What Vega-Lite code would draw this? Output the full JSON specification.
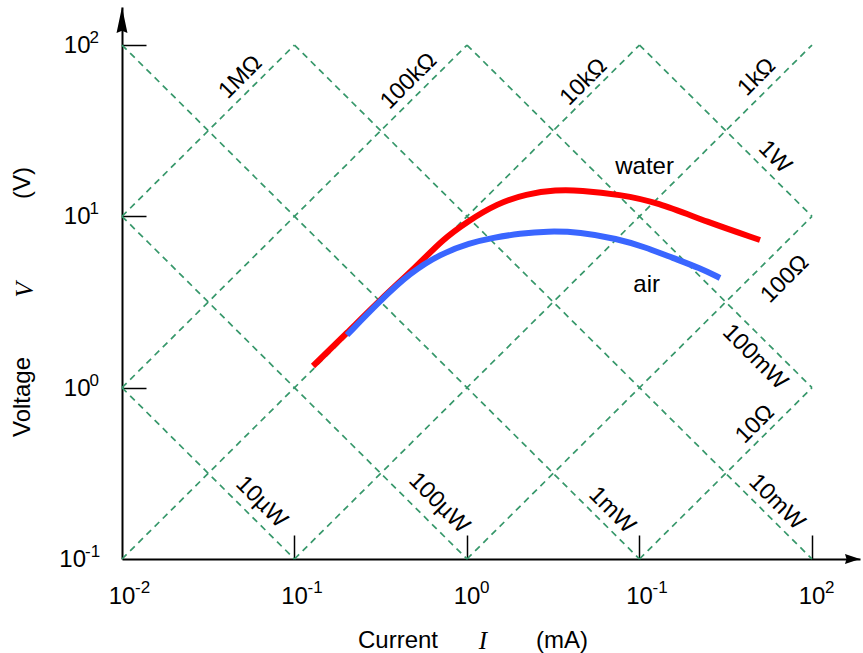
{
  "$schema": "https://vega.github.io/schema/vega-lite/v6.json",
  "width": 738,
  "height": 552,
  "autosize": "none",
  "padding": {"left": 122, "top": 7, "right": 3, "bottom": 94},
  "background": "white",
  "config": {"view": {"stroke": null}, "text": {"font": "Liberation Sans", "fontSize": 24, "color": "black"}},
  "datasets": {
    "lines": [
      {"name": "1MΩ", "I": 0.01, "V": 10, "I2": 0.1, "V2": 100},
      {"name": "100kΩ", "I": 0.01, "V": 1, "I2": 1, "V2": 100},
      {"name": "10kΩ", "I": 0.01, "V": 0.1, "I2": 10, "V2": 100},
      {"name": "1kΩ", "I": 0.1, "V": 0.1, "I2": 100, "V2": 100},
      {"name": "100Ω", "I": 1, "V": 0.1, "I2": 100, "V2": 10},
      {"name": "10Ω", "I": 10, "V": 0.1, "I2": 100, "V2": 1},
      {"name": "10µW", "I": 0.01, "V": 1, "I2": 0.1, "V2": 0.1},
      {"name": "100µW", "I": 0.01, "V": 10, "I2": 1, "V2": 0.1},
      {"name": "1mW", "I": 0.01, "V": 100, "I2": 10, "V2": 0.1},
      {"name": "10mW", "I": 0.1, "V": 100, "I2": 100, "V2": 0.1},
      {"name": "100mW", "I": 1, "V": 100, "I2": 100, "V2": 1},
      {"name": "1W", "I": 10, "V": 100, "I2": 100, "V2": 10}
    ],
    "curves": [
      {"series": "water", "I": 0.128, "V": 1.338},
      {"series": "water", "I": 0.2015, "V": 2.085},
      {"series": "water", "I": 0.313, "V": 3.25},
      {"series": "water", "I": 0.52, "V": 5.2},
      {"series": "water", "I": 0.72, "V": 7.3},
      {"series": "water", "I": 1.0, "V": 9.3},
      {"series": "water", "I": 1.5, "V": 11.9},
      {"series": "water", "I": 2.2, "V": 13.5},
      {"series": "water", "I": 3.3, "V": 14.3},
      {"series": "water", "I": 4.52, "V": 14.2},
      {"series": "water", "I": 7.71, "V": 13.4},
      {"series": "water", "I": 12.63, "V": 12.1},
      {"series": "water", "I": 24.62, "V": 9.27},
      {"series": "water", "I": 49.95, "V": 7.28},
      {"series": "air", "I": 0.2015, "V": 2.03},
      {"series": "air", "I": 0.313, "V": 3.21},
      {"series": "air", "I": 0.467, "V": 4.67},
      {"series": "air", "I": 0.698, "V": 6.03},
      {"series": "air", "I": 1.041, "V": 6.99},
      {"series": "air", "I": 1.415, "V": 7.5},
      {"series": "air", "I": 2.03, "V": 7.95},
      {"series": "air", "I": 2.91, "V": 8.2},
      {"series": "air", "I": 4.52, "V": 8.1},
      {"series": "air", "I": 7.41, "V": 7.4},
      {"series": "air", "I": 10.76, "V": 6.62},
      {"series": "air", "I": 15.64, "V": 5.71},
      {"series": "air", "I": 22.42, "V": 4.99},
      {"series": "air", "I": 29.29, "V": 4.37}
    ],
    "labels": [
      {"text": "1MΩ", "I": 0.0486, "V": 65.0, "kind": "R"},
      {"text": "100kΩ", "I": 0.459, "V": 61.6, "kind": "R"},
      {"text": "10kΩ", "I": 4.75, "V": 60.8, "kind": "R"},
      {"text": "1kΩ", "I": 47.9, "V": 65.0, "kind": "R"},
      {"text": "100Ω", "I": 69.6, "V": 4.31, "kind": "R"},
      {"text": "10Ω", "I": 46.7, "V": 0.613, "kind": "R"},
      {"text": "10µW", "I": 0.0644, "V": 0.215, "kind": "P"},
      {"text": "100µW", "I": 0.689, "V": 0.212, "kind": "P"},
      {"text": "1mW", "I": 6.93, "V": 0.193, "kind": "P"},
      {"text": "10mW", "I": 62.5, "V": 0.215, "kind": "P"},
      {"text": "100mW", "I": 46.7, "V": 1.51, "kind": "P"},
      {"text": "1W", "I": 60.9, "V": 22.2, "kind": "P"},
      {"text": "water", "I": 10.7, "V": 19.4, "kind": "C"},
      {"text": "air", "I": 11.0, "V": 3.97, "kind": "C"}
    ],
    "xticks": [
      {"I": 0.01, "exp": "-2"},
      {"I": 0.1, "exp": "-1"},
      {"I": 1, "exp": "0"},
      {"I": 10, "exp": "-1"},
      {"I": 100, "exp": "2"}
    ],
    "yticks": [
      {"V": 100, "exp": "2"},
      {"V": 10, "exp": "1"},
      {"V": 1, "exp": "0"},
      {"V": 0.1, "exp": "-1"}
    ],
    "xtitle": [
      {"text": "Current", "I": 0.398, "style": "plain"},
      {"text": "I", "I": 1.238, "style": "italic"},
      {"text": "(mA)", "I": 3.554, "style": "plain"}
    ],
    "ytitle": [
      {"text": "Voltage", "V": 0.882, "style": "plain"},
      {"text": "V", "V": 3.72, "style": "italic"},
      {"text": "(V)", "V": 15.65, "style": "plain"}
    ],
    "arrows": [
      {"dir": "up", "I": 0.01, "V": 139.9},
      {"dir": "right", "I": 171.7, "V": 0.1}
    ]
  },
  "layer": [
    {
      "data": {"name": "lines"},
      "mark": {"type": "rule", "color": "#36976a", "strokeWidth": 1.7, "strokeDash": [6.5, 5]},
      "encoding": {
        "x": {"field": "I", "type": "quantitative", "scale": {"type": "log", "domain": [0.01, 189.8], "nice": false},
              "axis": {"values": [0.1, 1, 10, 100], "tickSize": -24, "tickWidth": 1.5, "tickColor": "black", "domainColor": "black", "domainWidth": 2, "labels": false, "title": null, "grid": false}},
        "y": {"field": "V", "type": "quantitative", "scale": {"type": "log", "domain": [0.1, 166.7], "nice": false},
              "axis": {"values": [1, 10, 100], "tickSize": -24, "tickWidth": 1.5, "tickColor": "black", "domainColor": "black", "domainWidth": 2, "labels": false, "title": null, "grid": false}},
        "x2": {"field": "I2"},
        "y2": {"field": "V2"}
      }
    },
    {
      "data": {"name": "curves"},
      "transform": [{"filter": "datum.series === 'water'"}],
      "mark": {"type": "line", "color": "#ff0000", "strokeWidth": 6, "interpolate": "basis", "strokeCap": "butt"},
      "encoding": {
        "x": {"field": "I", "type": "quantitative", "scale": {"type": "log", "domain": [0.01, 189.8], "nice": false}},
        "y": {"field": "V", "type": "quantitative", "scale": {"type": "log", "domain": [0.1, 166.7], "nice": false}}
      }
    },
    {
      "data": {"name": "curves"},
      "transform": [{"filter": "datum.series === 'air'"}],
      "mark": {"type": "line", "color": "#3a66ff", "strokeWidth": 6, "interpolate": "basis", "strokeCap": "butt"},
      "encoding": {
        "x": {"field": "I", "type": "quantitative", "scale": {"type": "log", "domain": [0.01, 189.8], "nice": false}},
        "y": {"field": "V", "type": "quantitative", "scale": {"type": "log", "domain": [0.1, 166.7], "nice": false}}
      }
    },
    {
      "data": {"name": "labels"},
      "transform": [{"filter": "datum.kind === 'R'"}],
      "mark": {"type": "text", "angle": 315, "fontSize": 23.5, "align": "center", "baseline": "middle"},
      "encoding": {
        "x": {"field": "I", "type": "quantitative", "scale": {"type": "log", "domain": [0.01, 189.8], "nice": false}},
        "y": {"field": "V", "type": "quantitative", "scale": {"type": "log", "domain": [0.1, 166.7], "nice": false}},
        "text": {"field": "text"}
      }
    },
    {
      "data": {"name": "labels"},
      "transform": [{"filter": "datum.kind === 'P'"}],
      "mark": {"type": "text", "angle": 45, "fontSize": 23.5, "align": "center", "baseline": "middle"},
      "encoding": {
        "x": {"field": "I", "type": "quantitative", "scale": {"type": "log", "domain": [0.01, 189.8], "nice": false}},
        "y": {"field": "V", "type": "quantitative", "scale": {"type": "log", "domain": [0.1, 166.7], "nice": false}},
        "text": {"field": "text"}
      }
    },
    {
      "data": {"name": "labels"},
      "transform": [{"filter": "datum.kind === 'C'"}],
      "mark": {"type": "text", "fontSize": 24, "align": "center", "baseline": "middle"},
      "encoding": {
        "x": {"field": "I", "type": "quantitative", "scale": {"type": "log", "domain": [0.01, 189.8], "nice": false}},
        "y": {"field": "V", "type": "quantitative", "scale": {"type": "log", "domain": [0.1, 166.7], "nice": false}},
        "text": {"field": "text"}
      }
    },
    {
      "data": {"name": "xticks"},
      "mark": {"type": "text", "text": "10", "fontSize": 24, "align": "center", "baseline": "middle", "dy": 38},
      "encoding": {
        "x": {"field": "I", "type": "quantitative", "scale": {"type": "log", "domain": [0.01, 189.8], "nice": false}},
        "y": {"datum": 0.1, "type": "quantitative", "scale": {"type": "log", "domain": [0.1, 166.7], "nice": false}}
      }
    },
    {
      "data": {"name": "xticks"},
      "mark": {"type": "text", "fontSize": 17, "align": "left", "baseline": "middle", "dx": 13, "dy": 29},
      "encoding": {
        "x": {"field": "I", "type": "quantitative", "scale": {"type": "log", "domain": [0.01, 189.8], "nice": false}},
        "y": {"datum": 0.1, "type": "quantitative", "scale": {"type": "log", "domain": [0.1, 166.7], "nice": false}},
        "text": {"field": "exp"}
      }
    },
    {
      "data": {"name": "yticks"},
      "transform": [{"filter": "datum.exp !== '-1'"}],
      "mark": {"type": "text", "text": "10", "fontSize": 24, "align": "right", "baseline": "middle", "dx": -31.5, "dy": 1},
      "encoding": {
        "x": {"datum": 0.01, "type": "quantitative", "scale": {"type": "log", "domain": [0.01, 189.8], "nice": false}},
        "y": {"field": "V", "type": "quantitative", "scale": {"type": "log", "domain": [0.1, 166.7], "nice": false}}
      }
    },
    {
      "data": {"name": "yticks"},
      "transform": [{"filter": "datum.exp !== '-1'"}],
      "mark": {"type": "text", "fontSize": 17, "align": "left", "baseline": "middle", "dx": -32.5, "dy": -7},
      "encoding": {
        "x": {"datum": 0.01, "type": "quantitative", "scale": {"type": "log", "domain": [0.01, 189.8], "nice": false}},
        "y": {"field": "V", "type": "quantitative", "scale": {"type": "log", "domain": [0.1, 166.7], "nice": false}},
        "text": {"field": "exp"}
      }
    },
    {
      "data": {"name": "yticks"},
      "transform": [{"filter": "datum.exp === '-1'"}],
      "mark": {"type": "text", "text": "10", "fontSize": 24, "align": "right", "baseline": "middle", "dx": -36, "dy": 1},
      "encoding": {
        "x": {"datum": 0.01, "type": "quantitative", "scale": {"type": "log", "domain": [0.01, 189.8], "nice": false}},
        "y": {"field": "V", "type": "quantitative", "scale": {"type": "log", "domain": [0.1, 166.7], "nice": false}}
      }
    },
    {
      "data": {"name": "yticks"},
      "transform": [{"filter": "datum.exp === '-1'"}],
      "mark": {"type": "text", "fontSize": 17, "align": "left", "baseline": "middle", "dx": -37, "dy": -7},
      "encoding": {
        "x": {"datum": 0.01, "type": "quantitative", "scale": {"type": "log", "domain": [0.01, 189.8], "nice": false}},
        "y": {"field": "V", "type": "quantitative", "scale": {"type": "log", "domain": [0.1, 166.7], "nice": false}},
        "text": {"field": "exp"}
      }
    },
    {
      "data": {"name": "xtitle"},
      "transform": [{"filter": "datum.style === 'plain'"}],
      "mark": {"type": "text", "fontSize": 24, "align": "center", "baseline": "middle", "dy": 82},
      "encoding": {
        "x": {"field": "I", "type": "quantitative", "scale": {"type": "log", "domain": [0.01, 189.8], "nice": false}},
        "y": {"datum": 0.1, "type": "quantitative", "scale": {"type": "log", "domain": [0.1, 166.7], "nice": false}},
        "text": {"field": "text"}
      }
    },
    {
      "data": {"name": "xtitle"},
      "transform": [{"filter": "datum.style === 'italic'"}],
      "mark": {"type": "text", "font": "Liberation Serif", "fontStyle": "italic", "fontSize": 25, "align": "center", "baseline": "middle", "dy": 82},
      "encoding": {
        "x": {"field": "I", "type": "quantitative", "scale": {"type": "log", "domain": [0.01, 189.8], "nice": false}},
        "y": {"datum": 0.1, "type": "quantitative", "scale": {"type": "log", "domain": [0.1, 166.7], "nice": false}},
        "text": {"field": "text"}
      }
    },
    {
      "data": {"name": "ytitle"},
      "transform": [{"filter": "datum.style === 'plain'"}],
      "mark": {"type": "text", "fontSize": 24, "angle": 270, "align": "center", "baseline": "middle", "dy": -99},
      "encoding": {
        "x": {"datum": 0.01, "type": "quantitative", "scale": {"type": "log", "domain": [0.01, 189.8], "nice": false}},
        "y": {"field": "V", "type": "quantitative", "scale": {"type": "log", "domain": [0.1, 166.7], "nice": false}},
        "text": {"field": "text"}
      }
    },
    {
      "data": {"name": "ytitle"},
      "transform": [{"filter": "datum.style === 'italic'"}],
      "mark": {"type": "text", "font": "Liberation Serif", "fontStyle": "italic", "fontSize": 25, "angle": 270, "align": "center", "baseline": "middle", "dy": -97},
      "encoding": {
        "x": {"datum": 0.01, "type": "quantitative", "scale": {"type": "log", "domain": [0.01, 189.8], "nice": false}},
        "y": {"field": "V", "type": "quantitative", "scale": {"type": "log", "domain": [0.1, 166.7], "nice": false}},
        "text": {"field": "text"}
      }
    },
    {
      "data": {"name": "arrows"},
      "transform": [{"filter": "datum.dir === 'up'"}],
      "mark": {"type": "point", "shape": "M0,-1L0.42,1L0,0.82L-0.42,1Z", "size": 676, "filled": true, "color": "black", "opacity": 1, "strokeWidth": 0},
      "encoding": {
        "x": {"field": "I", "type": "quantitative", "scale": {"type": "log", "domain": [0.01, 189.8], "nice": false}},
        "y": {"field": "V", "type": "quantitative", "scale": {"type": "log", "domain": [0.1, 166.7], "nice": false}}
      }
    },
    {
      "data": {"name": "arrows"},
      "transform": [{"filter": "datum.dir === 'right'"}],
      "mark": {"type": "point", "shape": "M1,0L-1,0.67L-0.8,0L-1,-0.67Z", "size": 225, "filled": true, "color": "black", "opacity": 1, "strokeWidth": 0},
      "encoding": {
        "x": {"field": "I", "type": "quantitative", "scale": {"type": "log", "domain": [0.01, 189.8], "nice": false}},
        "y": {"field": "V", "type": "quantitative", "scale": {"type": "log", "domain": [0.1, 166.7], "nice": false}}
      }
    }
  ]
}
